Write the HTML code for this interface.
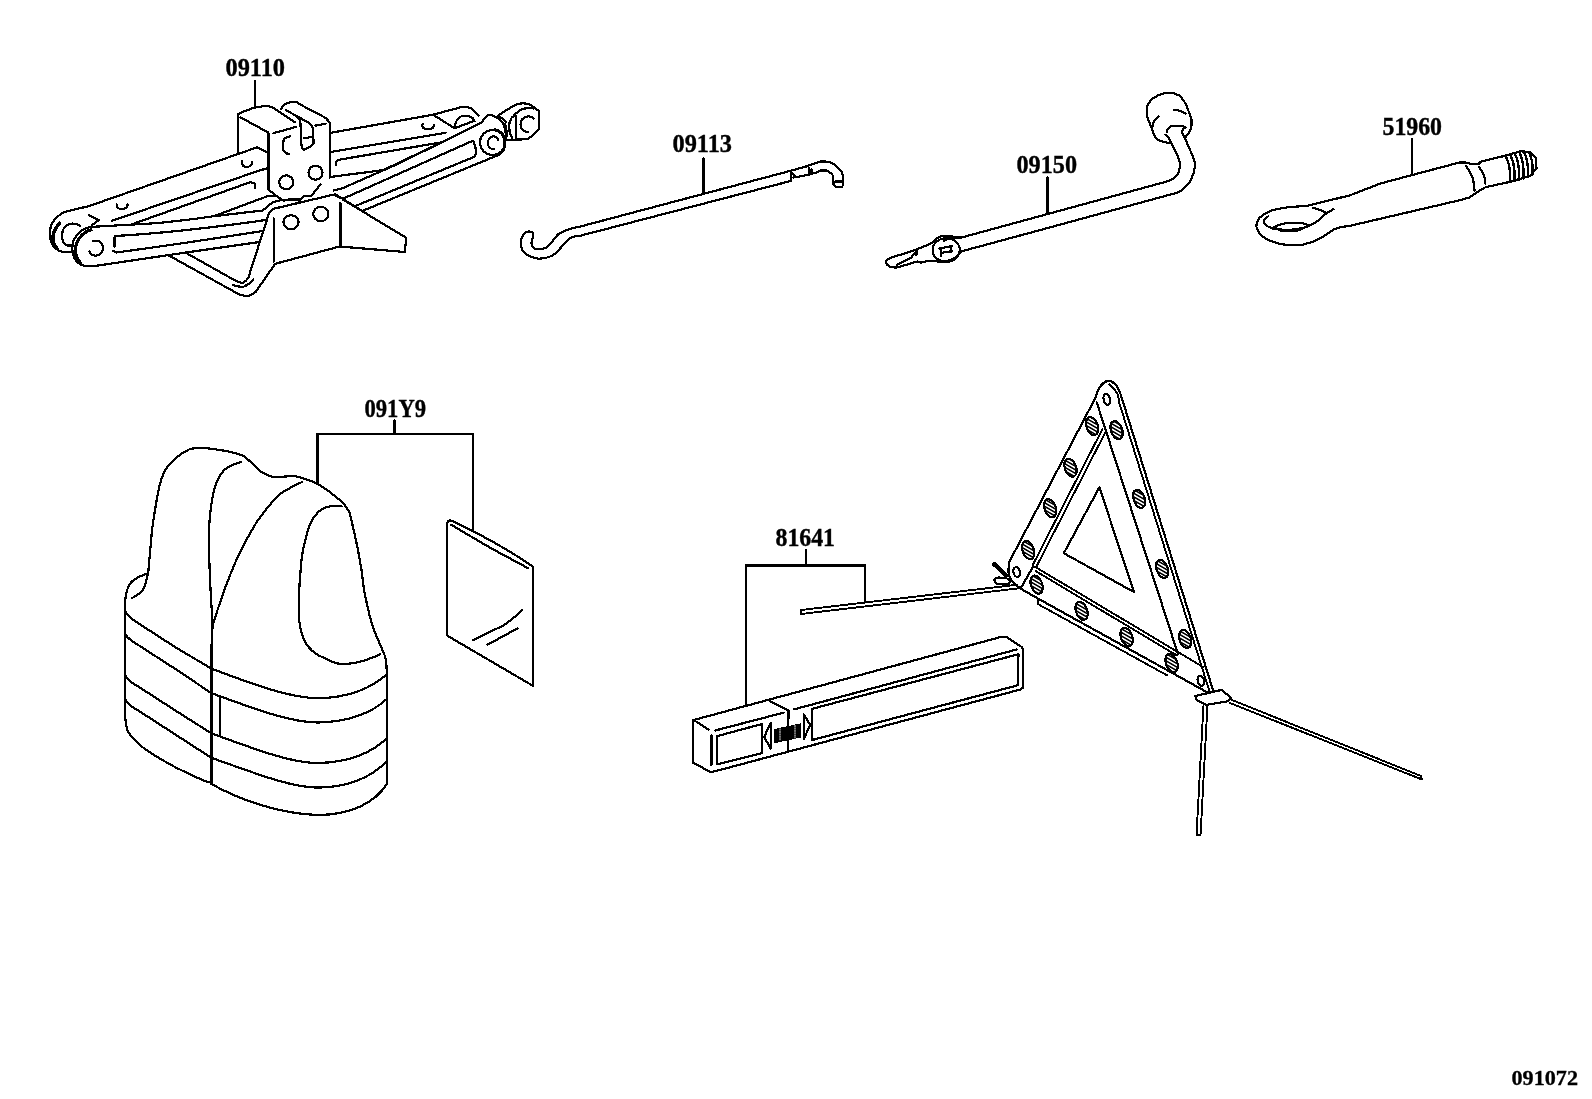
<!DOCTYPE html>
<html><head><meta charset="utf-8">
<style>
html,body{margin:0;padding:0;background:#fff;width:1592px;height:1099px;overflow:hidden;}
svg{display:block;will-change:transform;shape-rendering:crispEdges;}
.t{font-family:"Liberation Serif",serif;font-weight:bold;font-size:25.8px;fill:#000;stroke:#000;stroke-width:0.4;}
.s{font-family:"Liberation Serif",serif;font-weight:bold;font-size:21px;fill:#000;stroke:#000;stroke-width:0.3;}
g.l path, g.l line, g.l polyline, g.l polygon, g.l ellipse, g.l circle{fill:none;stroke:#000;stroke-width:2.2;stroke-linejoin:round;stroke-linecap:round;}
</style></head>
<body>
<svg width="1592" height="1099" viewBox="0 0 1592 1099">
<defs>
<pattern id="hatch" patternUnits="userSpaceOnUse" width="6" height="3.1" patternTransform="rotate(50)">
<rect x="0" y="0" width="6" height="1.9" fill="#000"/>
</pattern>
</defs>
<!-- labels -->
<text class="t" x="225.5" y="75.9" textLength="59.5" lengthAdjust="spacingAndGlyphs">09110</text>
<text class="t" x="672.5" y="151.9" textLength="59.5" lengthAdjust="spacingAndGlyphs">09113</text>
<text class="t" x="1016.5" y="172.9" textLength="60.5" lengthAdjust="spacingAndGlyphs">09150</text>
<text class="t" x="1382.5" y="134.9" textLength="59.5" lengthAdjust="spacingAndGlyphs">51960</text>
<text class="t" x="364.5" y="416.9" textLength="61.5" lengthAdjust="spacingAndGlyphs">091Y9</text>
<text class="t" x="775.5" y="545.9" textLength="59.5" lengthAdjust="spacingAndGlyphs">81641</text>
<text class="s" x="1511.5" y="1084.5" textLength="66.5" lengthAdjust="spacingAndGlyphs">091072</text>

<g class="l">
<!-- leaders -->
<line x1="255" y1="81" x2="255" y2="108"/>
<line x1="703.5" y1="158" x2="703.5" y2="193"/>
<line x1="1047.5" y1="177" x2="1047.5" y2="213"/>
<line x1="1412" y1="139" x2="1412" y2="175"/>
<polyline points="394.5,420 394.5,433.7"/>
<polyline points="317.5,483 317.5,433.7 472.6,433.7 472.6,529.6"/>
<polyline points="806,550 806,565.4"/>
<polyline points="745.8,704.5 745.8,565.4 865.2,565.4 865.2,601.6"/>

<!-- 09113 hook rod -->
<path d="M790.6,170.8 L580,226.6 C570,228.5 563,231 558.4,234.1 C554,238 551,245 546,248 C541,249.5 537,249.5 534.6,248.6 C531,247 531,242 532.4,238.9 C533.5,236 534.5,233 531.1,231.9 C528,231 525,232 523.5,234 C521,238 520.5,244 521.5,248 C523,253 528,257 538.6,258.7 C546,258.5 552,256.5 556,253 C560,249 565,242 570,238.3 C573,236.5 577,236 580,235.8 L790.6,181 Z"/>
<path d="M790.6,170.8 L806.4,166.4 L819.6,161.6 C823,161.5 826,161.5 828.4,161.8 C831,162.5 833,163.5 835,165.1 C838,167.5 840,169.5 841.6,171.7 C843,174 843.3,177 843.3,179.6 L843.3,184.9 C842.5,186.5 841.5,187.1 840.7,187.1 L836.3,187.1 C835,186.5 834,185.5 833.6,184.5 L833.2,176.1 C832.5,174.5 831.5,173.5 830.6,173 C829,171.5 828,170.8 826.6,170.4 L820.5,170.4 L816.1,172.6 L808.6,174.8 L793.2,177.6"/>
<path d="M792.3,173.5 L795.4,176.1 M808.6,167.8 L808.6,175.2 M811.5,169 L811.5,173.5"/>
<path d="M835.4,181.4 L841.6,181.4"/>

<!-- 09150 wrench -->
<path d="M980,232.5 L961,237.6 C957,237 953,236.5 949.1,236.3 L942.8,235.7 C940,236.5 938,237.5 936.5,238.8 C934,241 932.5,242.5 930.3,243.8 L916.4,249.5 L889.4,258.3 C887,259.5 885.5,261 885.7,262.1 C886.5,264 888,266 889.4,266.5 L896.3,267.7 L917.7,261.4 L920.8,262.7 L929,260.8 L936.5,261.4 L946,261.4 C950,260.5 953,259 955.4,257.7 C958,255.5 959.5,253.5 961,251.4 L980,246.4"/>
<path d="M915.2,252.6 C913,255 912,256.5 911.4,257.7 L897,264.6 M916.4,250 L916.4,255"/>
<ellipse cx="946.2" cy="250" rx="13.6" ry="11.8"/>
<path d="M939.5,248.5 L952,246 M941,248 L941,256 M951,246 L951,252 M941,253 L952,251"/>
<path d="M944,241 C947,238.5 952,237.5 958,238"/>
<path d="M980,232.5 L1169,180.9 C1174,179 1177,176 1178.5,172.6 C1180,168 1180.5,165 1179.7,161.9 C1178,156 1175,150 1172.6,145.4 L1169,138.3 C1168,136.5 1167,135.5 1165.5,134.7"/>
<path d="M980,246.4 L1177.3,192.7 C1183,190 1187,186 1190.4,180.9 C1193,176 1194.5,171 1195.1,165.5 C1195,162 1194,159 1192.7,156 L1184.4,137.1 C1183,135 1182,133 1182,131.2 C1182.5,129.5 1183.5,128.5 1184.4,127.6"/>
<path d="M1169,143 C1164,142 1160,141 1157.2,139.4 C1154,136 1153,133 1152.5,130 L1147.2,117 C1146.5,113 1146.5,109 1147.2,106.3 C1149,102 1151,99.5 1153.7,98 C1158,95 1163,93 1167.9,92.7 C1172,92.5 1176,93.5 1179.7,95.7 C1183,99 1185,102 1186.8,106.3 L1191.5,119.3 C1192,123 1191.5,127 1190.4,130 C1189,133 1187.5,135 1185.6,137.1"/>
<path d="M1158.4,116.4 C1155,119 1153,123 1152.5,126.4 M1174.4,109.9 C1178,110 1182,111 1185.6,113.4 M1166.7,132.3 C1167.5,129 1169,127 1171.4,125.8 L1179.7,125.8 C1182,126 1184,126.5 1185.6,127.6"/>

<!-- 51960 tow eye -->
<path d="M1350,195.3 L1307.8,205.7 L1290.8,207 C1285,207.5 1280,208.5 1275.1,209.5 C1271,210.5 1268,212 1265.7,213.2 C1262,215.5 1259.5,217.5 1258.2,219.5 C1257,222 1256.3,224 1256.3,226.4 C1257,229.5 1258.5,232 1260,234 C1263,237 1265.5,238.5 1268.8,240.3 C1274,242.5 1279,244 1284.5,244.6 L1302.8,244.6 C1309,243.5 1314,241.5 1319.1,239 C1325,235.5 1330,232 1334.8,228.9 C1340,227 1345,226.5 1350,225.8"/>
<path d="M1268.2,216.4 C1265.5,218 1264,219 1263.8,220.2 C1264,222.5 1264.5,224 1265.7,225.2 C1268.5,227 1271.5,228.5 1275.1,229 L1287.7,230.2 C1294,229.5 1300.5,228.5 1306.5,227.1 C1311,225 1315,222.5 1319.1,220.2 L1325.4,213.9 L1333.5,209.2"/>
<path d="M1313.4,207.9 C1318,209 1322,210.5 1325.4,212.5"/>
<path d="M1273.9,227.1 C1278,225 1283,223.5 1287.7,222.7 L1301.5,222.7 L1309,225.2 C1305,228 1301,229.5 1297.1,230.8 L1281.4,230.8 C1278,229.5 1276,228.5 1273.9,227.1"/>
<path d="M1350,195.3 L1380.7,183.4 L1450,165 L1459.5,162.4 L1469,162.7 L1469.7,164.2 L1478.6,163.9 L1481,161.5 L1503.7,156.1 L1520.4,151.3 L1529.4,151.9 L1535.9,157.9 L1536.5,168.6 L1530,175.8 L1510.3,181.8 L1485.8,187.1 C1480,190 1474,194.5 1469.7,197.3 L1462,199.7 L1350,225.8"/>
<path d="M1506,157 C1509,162 1510.5,170 1510,182 M1510.5,155.5 C1513.5,161 1515,170 1514.5,181 M1515,154 C1518,160 1519.5,169 1519,180 M1519.5,152.5 C1522.5,159 1524,168 1523.5,178.5 M1524,152 C1527,158 1528.5,167 1528,177 M1529,152.5 C1532,158 1533,166 1532.5,174.5" style="stroke-width:2.4"/>
<path d="M1466.1,166.3 C1471,172 1474.5,181 1474.5,190.7 M1479.2,167.4 C1483,172 1485.5,178 1485.2,183.6" style="stroke-width:2.3"/>

<!-- vest -->
<path d="M211.5,782.6 L206,781.5 C195,777 185,772 175.5,767.3 C160,759 148,752 140.5,745.5 C133,739 129,734 127.5,730.2 C126,726 125.5,721 125.3,717.1 L125.3,599.3 C126,593 127.5,588 129.6,584 C133,580 138,577 142.7,575.3 C145,574.3 147,573.5 148.2,573.1 L152,530 C155,510 157,495 160,484 C162,476 164,471 168,466 C174,459 181,453 190,449 C195,448 199,448 204,448 C212,448.5 219,450 226,451 C233,452.5 239,454 244,456 C250,461 255,466.5 260,471 C266,475 271,477 276,477 C283,477 288,476 294,476 C302,477.5 309,480 316,483 C325,488 334,495 342,502 C346,506 348,509 350,514 C353,527 356,540 358,550 C361,565 363,580 364,590 C367,605 370,620 374,630 C377,638 381,646 385.1,656.4 C386.3,661 386.7,666 386.7,672.8 L386.7,784.1 C375,803 350,815 318,815 C280,814 240,800 211.5,784.1"/>
<path d="M131.8,598.2 C136,596 140,593.5 142.7,590.5 C144.5,587.5 145.5,584.5 146,581.8 L148.2,573.1"/>
<path d="M241,462 C234,464 228,467 224,470 C219,476 216,483 214,490 C211,503 209.5,517 209,530 L209.3,560 C210,585 211.5,605 212.6,625.5 L211.5,646.2"/>
<path d="M302,482 C294,486 287,489 280,494 C272,501 265,511 258,520 C248,536 239,552 230,575.3 C224,590 218,608 212.6,625.5"/>
<path d="M341.6,506.3 C330,505 321,508 316.7,513.9 C311,520 308.5,527 307.2,533 C304,545 302,553 301.5,560 C300,575 299,590 298.6,603.7 C298.6,613 299,620 299.5,622.8 C301,635 305,643 309.1,647.6 C313,652 317,655 322.5,657.2 C328,660 334,663 339.7,663.9 C348,664.5 356,663 362.6,661 C369,659 375,657 379.8,654.3"/>
<path d="M211.5,646.2 L211.5,782.6"/>
<path d="M125.3,611.3 C128,616 133,620 138.4,623.3 L175.5,647.3 L211.5,668.7 C255,685 290,698 318,698.2 C348,698 372,688 386.7,674.4"/>
<path d="M125.3,634.2 C128,639 133,642 138.4,645.1 L175.5,669.1 L211.5,693.2 C255,709 290,722.5 318,722.5 C348,722 372,713 386.7,699"/>
<path d="M125.3,675.6 C128,680.5 133,684 138.4,686.6 L175.5,710.6 L211.5,733.4 C255,749 290,763 318,763 C348,762.5 372,753 386.7,738.3"/>
<path d="M125.3,699.6 C128,704.5 133,708 138.4,710.6 L175.5,734.6 L211.5,757.9 C255,773 290,787.5 318,787.6 C348,787.5 372,777 386.7,761.2"/>
<path d="M220.2,697 L220.2,735"/>

<!-- card -->
<path d="M447.3,635.7 L447.3,523 C447.5,521 449,520 451,520.5 C465,527 500,544 532.9,566.5 L532.9,685.8 Z"/>
<path d="M451,524.6 C470,536 490,548 502.9,554.6 C512,559.5 520,564 528.4,568.3"/>
<path d="M472.8,640.3 C483,635 493,630.5 502.9,625.7 C510,621 516,616 522,610.2 M487.4,644.8 L517.4,628.4"/>

<!-- reflector box -->
<path d="M693,720.2 L1001.5,636.8 L1006.3,636.8 L1021.3,646.7 L1023.2,649 L1023.2,687.7 L1020.4,689.5 L716.1,771 L710.4,772 L693,762.6 Z"/>
<path d="M695.4,721.1 L708.6,729.6 M715.2,730.5 L783.9,712.6 M769.8,701.3 L788.6,710.3 L787.7,752.2 M794.3,709.3 L1016.6,649.5"/>
<path d="M812.2,708.8 L1018.5,654.2 L1017.6,685.3 L812.2,740 Z"/>
<path d="M717,736.2 L762.3,723.9 L762.3,753.1 L717,764.4 Z M711.4,735.2 L711.4,765.4"/>
<path d="M770.7,723 L764.1,737.1 L770.7,748.4 Z M803.7,714.5 L810.3,724.9 L803.7,739 Z"/>
<path d="M775,729.5 L800.5,724 L800.5,737 L775,742.5 Z" style="fill:#000;stroke-width:1.2"/>
<path d="M780,729 L780,741 M795,725.5 L795,738" style="stroke:#fff;stroke-width:0.9;stroke-dasharray:1.2 1.2"/>
<!-- thin rod leg -->
<path d="M801,610 L1016.7,584.8 M801,614 L1019.8,588.2 M801,610 L801,614" style="stroke-width:1.9"/>
<path d="M994.1,562.6 L1008.3,575.9 M993,564.5 L1006,577"/>
<path d="M994.1,579.8 C996,578 997.5,577.5 998.9,577.5 L1006.7,578.3 C1008.5,579 1009.5,580 1009.8,581.4 C1009.5,583 1009,584 1008.3,584.5 L997.3,583.8 C995.5,582.5 994.5,581 994.1,579.8"/>

<!-- warning triangle -->
<path d="M1095.5,397.7 C1096.5,393 1098,390 1100,387 C1102,384 1104,382 1107,381 C1109,380.5 1110,380.5 1110.9,380.7 C1113,382.5 1115.5,384.5 1117.1,386.4 C1119.5,391 1121.5,396 1122.8,401.2 L1213.4,691.3 L1209.2,693.4 L1037.5,598.3 L1020.9,588.8 C1016,585.5 1013,583 1011.5,580.4 C1009,577 1008.5,574.5 1008.4,572 C1008.5,567.5 1009,564 1009.4,561.6 Z"/>
<path d="M1109.5,384.5 C1112.5,387 1115.5,390 1117.5,394 C1118.5,397 1119,400 1119.3,403 L1209.5,691.5" style="stroke-width:1.9"/>
<path d="M1096.7,402.3 L1177.9,653.7"/>
<path d="M1102.5,429 L1032.5,565.5 M1106,431 L1036,567.5" style="stroke-width:1.9"/>
<path d="M1034.5,566.5 L1203,667 M1035.5,571 L1177,655.5" style="stroke-width:1.9"/>
<path d="M1037.5,598.5 L1037.8,604 L1167.4,675.5" style="stroke-width:1.9"/>
<path d="M1032.8,567.2 L1020.6,588.5"/>
<path d="M1099.4,487.3 L1063.8,553.2 L1133.9,592 Z"/>
<ellipse cx="1106.9" cy="399.4" rx="3.2" ry="5.5" transform="rotate(-15 1106.9 399.4)"/>
<ellipse cx="1016.7" cy="572.1" rx="3.2" ry="5" transform="rotate(-15 1016.7 572.1)"/>
<ellipse cx="1200.9" cy="680.9" rx="3.2" ry="5" transform="rotate(-15 1200.9 680.9)"/>
<g id="bolts">
<ellipse cx="1092.1" cy="426.2" rx="5.6" ry="9.4" transform="rotate(-20 1092.1 426.2)" style="fill:url(#hatch)"/>
<ellipse cx="1116.6" cy="430.2" rx="5.6" ry="9.4" transform="rotate(-20 1116.6 430.2)" style="fill:url(#hatch)"/>
<ellipse cx="1070.5" cy="467.7" rx="5.6" ry="9.4" transform="rotate(-20 1070.5 467.7)" style="fill:url(#hatch)"/>
<ellipse cx="1050.2" cy="508.2" rx="5.6" ry="9.4" transform="rotate(-20 1050.2 508.2)" style="fill:url(#hatch)"/>
<ellipse cx="1028.2" cy="550.1" rx="5.6" ry="9.4" transform="rotate(-20 1028.2 550.1)" style="fill:url(#hatch)"/>
<ellipse cx="1139.2" cy="498.8" rx="5.6" ry="9.4" transform="rotate(-20 1139.2 498.8)" style="fill:url(#hatch)"/>
<ellipse cx="1162.2" cy="568.9" rx="5.6" ry="9.4" transform="rotate(-20 1162.2 568.9)" style="fill:url(#hatch)"/>
<ellipse cx="1185.2" cy="639" rx="5.6" ry="9.4" transform="rotate(-20 1185.2 639)" style="fill:url(#hatch)"/>
<ellipse cx="1036.6" cy="584.6" rx="5.6" ry="9.4" transform="rotate(-20 1036.6 584.6)" style="fill:url(#hatch)"/>
<ellipse cx="1081.6" cy="610.8" rx="5.6" ry="9.4" transform="rotate(-20 1081.6 610.8)" style="fill:url(#hatch)"/>
<ellipse cx="1126.6" cy="636.9" rx="5.6" ry="9.4" transform="rotate(-20 1126.6 636.9)" style="fill:url(#hatch)"/>
<ellipse cx="1171.6" cy="663.1" rx="5.6" ry="9.4" transform="rotate(-20 1171.6 663.1)" style="fill:url(#hatch)"/>
</g>
<!-- hinge + legs -->
<path d="M1195.2,696 L1221.6,689.9 L1231.2,697.8 L1227.7,701.3 L1206.6,704.8 L1197,700.5 Z"/>
<path d="M1203.5,705 L1196.5,835 L1200.5,835.5 L1207.5,705" style="stroke-width:1.9"/>
<path d="M1229.5,699 L1421,776 L1422,779.5 L1230,703" style="stroke-width:1.9"/>

<!-- jack 09110 -->
<!-- back-left arm -->
<path d="M71,251.9 L62.9,251.9 C60,251.5 57,250 54.7,247.8 C52,245 50.5,241 49.8,236.4 C49.5,232 50,227 53.1,221.7 C55,218.5 59,215 64.5,211.9 L89,206.1 L257.2,147.3 L267,152.2"/>
<path d="M59.5,223 C55.5,228 53,233 52.8,238 C53,242 54.5,245.5 57,248.5" style="stroke-width:3.5"/>
<path d="M111.9,220.8 L262.9,169.4"/>
<path d="M134.7,223.3 L250,182.3 C253,182.5 254.5,183.5 254.6,184 L255.1,188.5"/>
<path d="M117,204.5 C116,207.5 118,209 122,209 C126,209 128,207 127.5,204.5"/>
<path d="M242,161 C241.5,165 243,167 247,167 C251,166.5 252.5,164.5 252,162"/>
<path d="M89,215.1 L98.8,220 L92.3,224.9"/>
<path d="M80,226 C75,222 67,223 63.5,229 C60.5,236 62,243 67,245.5 L74,245.5"/>
<!-- front-left arm -->
<path d="M91,226.9 C85,228 80,231 77,235 C73,240 71.5,246 72.5,251 C73,256 74.5,259.5 77,262 C79.5,264.5 82,265.5 85,266 L92.2,266.4"/>
<path d="M91,230 C86.5,231 82.5,234 79.5,238 C76,243 75,247.5 75.5,252 C76,256.5 77.5,260 80.5,263" style="stroke-width:3.2"/>
<path d="M91,226.9 L154.3,223.3 C175,221.5 195,219 213.8,216.2 L267,196.4 L276,195.8"/>
<path d="M115.2,236 C160,233.5 200,229.5 265.9,220 M114.5,237.5 L114.5,246.5 M113,251 L116.4,252.5 C150,248 190,242.5 262.5,231"/>
<path d="M92.2,266.4 L173.8,254.3 L258,242.2"/>
<path d="M93,241 C99,239.5 103,243 103,248 C103,253 99,256.5 94,255.5 C91.5,255 90,253 89.5,251.5"/>
<path d="M213.8,216.2 L262.5,210.5 C266,208 269,205 272.6,202.6 L279.4,200.4 L299.8,199.2"/>
<!-- base -->
<path d="M168,255 L239.1,294.4 C242,295.5 245,296 248.5,296 C251.5,295 253.5,293.5 255.6,292 L275.2,263.8 L339.6,246.5 L404.8,252 L406.3,237.9 L342.7,199.4"/>
<path d="M187.3,253.6 L236,281 C239,282.5 241.5,283 243.8,282.6 C246,281 247.5,279 248.5,277.2 L268.9,213.6 C270.5,211 272,209.5 273.6,208.8 L333.3,194.7 C336,195 338,196.5 339.6,197.9"/>
<path d="M232.8,285 C236.5,286.5 240,287 243.8,286.6 C248,285 251,282.5 253.2,279.5"/>
<path d="M273.6,218.3 L273.6,261.5 M340.4,202.6 L340.4,245.7 M385,225 L405,237"/>
<ellipse cx="291" cy="222.2" rx="7.6" ry="7"/>
<ellipse cx="320.8" cy="214" rx="7.6" ry="7.2"/>
<!-- bracket -->
<path d="M237.8,153.6 L237.8,114.1 C245,111 250,109 254.4,107.7 L265.9,105.8 L272.2,107.1 L295.2,122.4"/>
<path d="M240.4,117.3 L268.4,132.6 L268.4,189.3 L273.5,193.7 L276,195.6 L283.7,200.7 L291.3,198.8 L299,200.7 L304.1,195.6 L311.7,195.6 L320.6,184.2"/>
<path d="M329.6,122.4 L329.6,177.8 M325.7,117.9 L329.6,122.4"/>
<path d="M273.5,133.2 L296.4,126.8 M315.5,125.6 L325.7,123.7"/>
<path d="M281.1,109 C283,105 287,102.5 291.3,102 L296.4,102 L299,103.9 L325.7,117.9"/>
<path d="M286.2,110.3 L309.2,123 C311.5,125 313,127 313,129.4 L313.6,143.4 C312,145.5 311,146.5 309.2,147.2 L304.1,149.8 C302.5,148.5 301.5,147.5 301.5,146 L300.3,120.5 C299,118.5 298,117.5 296.4,116.7"/>
<path d="M304,138.3 L313,136.8"/>
<path d="M290,136.4 C287,137 284.5,138 283.7,139.6 C283,143 282.8,147 283,149.8 C284,152 286,153.5 288.8,154.2"/>
<circle cx="286.2" cy="182.3" r="7"/>
<circle cx="315.5" cy="172.7" r="7"/>
<path d="M262,170 L268,168"/>
<!-- back-right arm -->
<path d="M330.7,132.8 L433.1,114.7 L462.8,106.7 L470.4,107.8 L478.7,115.7"/>
<path d="M330.7,152 L445.5,132.8"/>
<path d="M336,165 C336,162 337,160.5 338.1,159.9 L441,142.4"/>
<path d="M433.1,114.7 L454.6,128.3 C455,124 456.5,120 458.7,117.8 C460.5,116.5 462,115.8 464.2,115.7 C467,115.8 470,116.5 472.5,117.8 C473.5,119 474,120 474.6,121.3"/>
<path d="M455,128 L474,121"/>
<path d="M422.5,124 C421.5,127.5 423.5,129 428,129 C432,129 434.5,127.5 434,124.5"/>
<!-- front-right arm -->
<path d="M330.7,176.9 L383.3,170.1 L448.9,139"/>
<path d="M333.6,190.5 L342.6,188.2 L399.2,163.3 L481.5,122.6 C484,119 486,116 488.4,115 L493.9,115.7"/>
<path d="M343.7,198.4 L470.4,141.8 C472,141 473,141.2 473.8,141.8 C475,145 475.8,148 476,150.9 C476,153 475.5,155 474.9,156.5 L356.2,205.7"/>
<path d="M364.1,210.2 L497.5,155.4"/>
<path d="M334.7,193.9 L376.5,220"/>
<!-- pivot + screw eye -->
<circle cx="492.5" cy="142.5" r="12.5"/>
<path d="M495,129.5 C501,131 505,136 505,143 C505,148 502,152.5 498,155" style="stroke-width:3"/>
<path d="M494.3,116.7 C498,118 501,120 503,123 C505,127 506,132 505.8,138.8 M497.6,115.9 C501,117 504,119.5 506,122.5"/>
<path d="M498,140 C497.5,137 495,136 492.5,136.5 C489,137.5 487.5,141 488,144.5 C488.5,147.5 491,149.5 494.5,149"/>
<path d="M498.7,115 C505,111 511,107 516,104.7 C519,103.5 521,103.3 523.6,103.3 C526,103.5 528,104 529.8,104.7 C533,106.5 536,108.5 538.8,110.9 L538.8,129.6 C535,133.5 531.5,136.5 527.8,139.2 L505.7,140"/>
<path d="M512.6,117.1 C516,113 519.5,110 522.9,108.8 C527,108 531,108 534,108.5"/>
<path d="M516,115.7 L516,139.2 M511.9,117.1 C509.5,121 509,124 509.1,126.8 C509,130 510,134 511.9,137.8"/>
<path d="M533.5,118.5 C531.5,116.5 529,116 527,116.5 C523,117.5 520.5,121 520.5,125 C521,129 524,132 528.5,132"/>
<path d="M505,124 C507,130 507,136 505.7,140"/>
</g>
</svg>
</body></html>
